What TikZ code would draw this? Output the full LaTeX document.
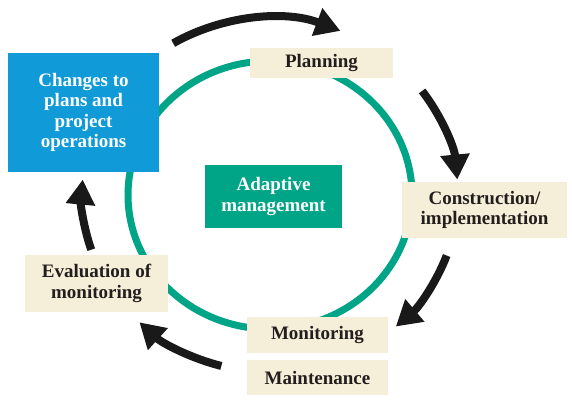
\documentclass[tikz,border=0pt]{standalone}
\usepackage{fontspec}
\setmainfont{Liberation Serif}
\usepackage{xcolor}
\usepackage{tikz}
\usetikzlibrary{arrows.meta, positioning}

\definecolor{cycleteal}{RGB}{0,164,134}
\definecolor{changeblue}{RGB}{16,154,216}
\definecolor{stagebeige}{RGB}{245,238,216}
\definecolor{stagetext}{RGB}{35,30,30}

\begin{document}
\begin{tikzpicture}[
    x=1pt, y=1pt,
    stage/.style={fill=stagebeige, text=stagetext, inner sep=0pt, align=center, font=\fontsize{19}{20.5}\selectfont\bfseries},
    keybox/.style={stage, text=white},
    cyclearrow/.style={-{Triangle[length=25pt, width=28pt]}, line width=8pt, black!90},
    node distance=7pt
]
    \useasboundingbox (0,0) rectangle (572,405);
    \coordinate (hub) at (270,210);

    % teal loop sits behind the boxes
    \draw[cycleteal, line width=7pt] (hub) ellipse [x radius=142pt, y radius=134pt];

    \node[keybox, fill=changeblue, minimum width=151pt, minimum height=119pt] (changes) at (83.5,292.5) {Changes to\\plans and\\project\\operations};
    \node[keybox, fill=cycleteal, minimum width=137pt, minimum height=63pt] (adaptive) at (273.5,208.5) {Adaptive\\management};
    \node[stage, minimum width=143pt, minimum height=30pt] (planning) at (321.5,342) {Planning};
    \node[stage, minimum width=165pt, minimum height=56pt] (construction) at (484.5,195) {Construction/\\implementation};
    \node[stage, minimum width=141pt, minimum height=36pt] (monitoring) at (317.5,70) {Monitoring};
    \node[stage, minimum width=141pt, minimum height=35pt, below=of monitoring] (maintenance) {Maintenance};
    \node[stage, minimum width=143pt, minimum height=57pt] (evaluation) at (96.5,121.5) {Evaluation of\\monitoring};

    % outer arrows, clockwise
    \coordinate (toplan) at ([shift={(hub)}]121:188pt and 177pt);
    \coordinate (tobuild) at ([shift={(hub)}]36:188pt and 177pt);
    \coordinate (tomonitor) at ([shift={(hub)}]-20:188pt and 177pt);
    \coordinate (toeval) at ([shift={(hub)}]-105:188pt and 177pt);
    \coordinate (tochange) at ([shift={(hub)}]-162:188pt and 177pt);

    \draw[cyclearrow] (toplan) arc[start angle=121, end angle=68, x radius=188pt, y radius=177pt];
    \draw[cyclearrow] (tobuild) arc[start angle=36, end angle=5, x radius=188pt, y radius=177pt];
    \draw[cyclearrow] (tomonitor) arc[start angle=-20, end angle=-48, x radius=188pt, y radius=177pt];
    \draw[cyclearrow] (toeval) arc[start angle=-105, end angle=-134, x radius=188pt, y radius=177pt];
    \draw[cyclearrow] (tochange) arc[start angle=-162, end angle=-185, x radius=188pt, y radius=177pt];
\end{tikzpicture}
\end{document}
